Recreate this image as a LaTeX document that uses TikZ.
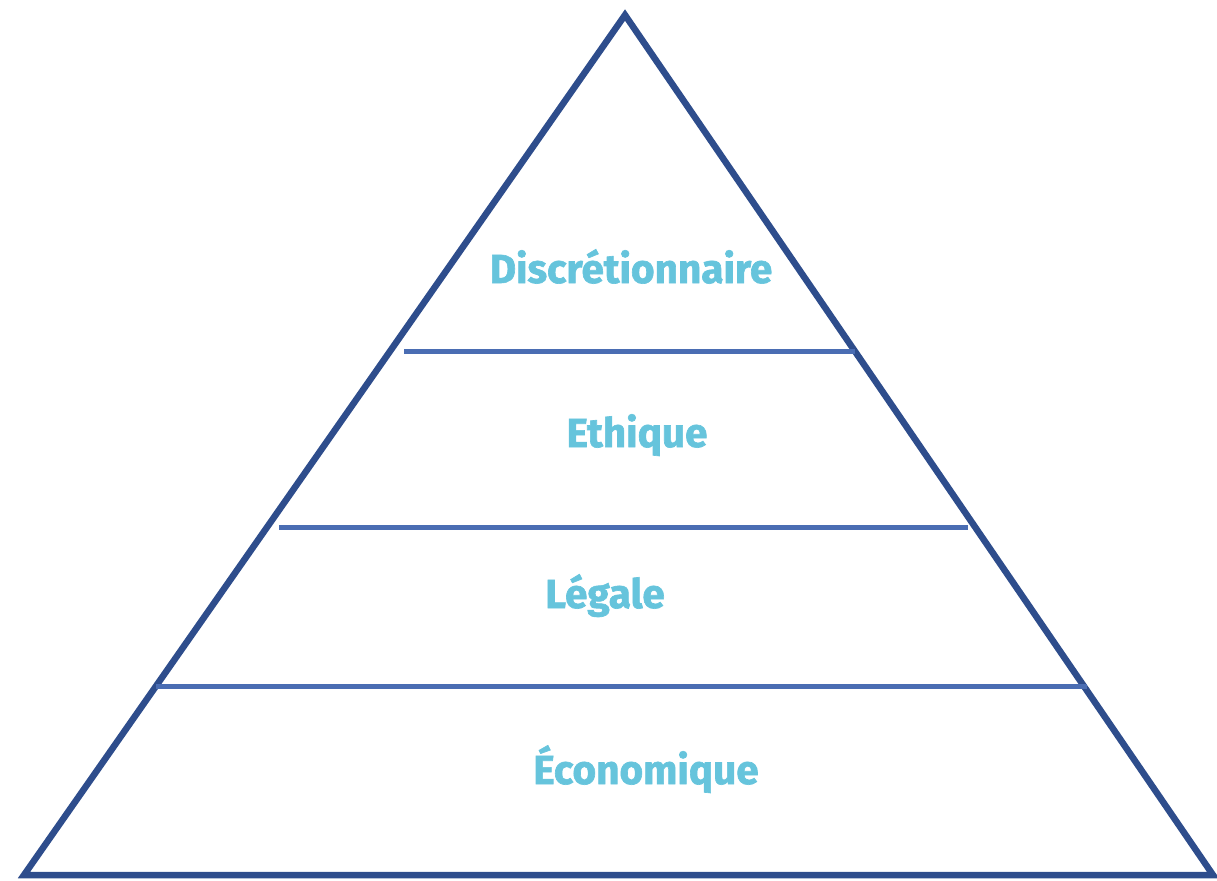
\documentclass[tikz,border=0pt]{standalone}
\usepackage{fontspec}
\setmainfont{Fira Sans}
\newfontfamily\labfont{Fira Sans Bold}[FakeBold=1.6]
\definecolor{frame}{HTML}{2E4D8C}
\definecolor{bar}{HTML}{4A6DB3}
\definecolor{lbl}{HTML}{66C4DC}
\tikzset{
  pyr/.style={draw=frame, line width=6.5pt, line join=miter},
  tier/.style={draw=bar, line width=5pt},
  lab/.style={text=lbl, font=\labfont\fontsize{40.5}{40}\selectfont, anchor=base, inner sep=0pt}
}
\begin{document}
\begin{tikzpicture}[x=1pt,y=-1pt]
\useasboundingbox (0,0) rectangle (1217,880);
\coordinate (apex) at (625,15);
\coordinate (bl) at (24,875);
\coordinate (br) at (1213,875);
\draw[pyr] (apex) -- (br) -- (bl) -- cycle;
\coordinate (l1a) at (404,351); \coordinate (l1b) at (855,351);
\coordinate (l2a) at (279,527); \coordinate (l2b) at (968,527);
\coordinate (l3a) at (156,686); \coordinate (l3b) at (1087,686);
\draw[tier] (l1a) -- (l1b);
\draw[tier] (l2a) -- (l2b);
\draw[tier] (l3a) -- (l3b);
\node[lab] (t1) at (631,283) {Discrétionnaire};
\node[lab] (t2) at (637,447) {Ethique};
\node[lab] (t3) at (605,608) {Légale};
\node[lab] (t4) at (646,784) {Économique};
\end{tikzpicture}
\end{document}
